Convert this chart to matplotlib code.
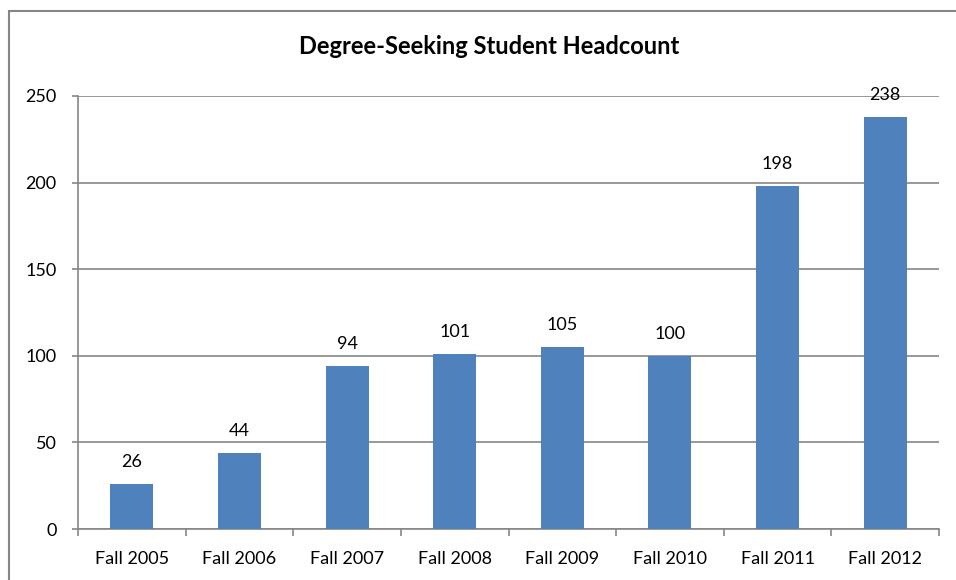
import numpy as np
import matplotlib.pyplot as plt
from matplotlib.patches import Rectangle

plt.rcParams['font.family'] = ['Lato', 'DejaVu Sans']

terms = ['Fall 2005', 'Fall 2006', 'Fall 2007', 'Fall 2008',
         'Fall 2009', 'Fall 2010', 'Fall 2011', 'Fall 2012']
headcount = [26, 44, 94, 101, 105, 100, 198, 238]
y_ticks = [0, 50, 100, 150, 200, 250]

grey = '#868686'
blue = '#4F81BD'

fig = plt.figure(figsize=(9.56, 5.8), dpi=100)
ax = fig.add_axes([78 / 956, 51 / 580, 861 / 956, 433 / 580])

x = np.arange(len(terms))
ax.bar(x, headcount, width=0.4, color=blue, zorder=3)
for xi, v in zip(x, headcount):
    ax.text(xi, v + 8, str(v), ha='center', va='bottom', fontsize=13, zorder=4)

ax.set_xlim(-0.5, len(terms) - 0.5)
ax.set_ylim(0, 250)
ax.set_yticks(y_ticks)
ax.yaxis.grid(True, color=grey, linewidth=1.2, zorder=0)
ax.set_axisbelow(True)

# category labels centred under bars, tick marks at category boundaries
ax.set_xticks(x)
ax.set_xticklabels(terms, fontsize=13)
ax.set_xticks(np.arange(-0.5, len(terms)), minor=True)
ax.tick_params(axis='x', which='major', length=0, pad=16)
ax.tick_params(axis='x', which='minor', length=5, width=1.2, color=grey)
ax.tick_params(axis='y', length=4.5, width=1.2, color=grey, labelsize=13, pad=11)

for side in ['top', 'right']:
    ax.spines[side].set_visible(False)
for side in ['left', 'bottom']:
    ax.spines[side].set_color(grey)
    ax.spines[side].set_linewidth(1.2)

fig.text(489 / 956, 1 - 47 / 580, 'Degree-Seeking Student Headcount',
         ha='center', va='center', fontsize=17, fontweight='bold')

# chart frame (right and bottom edges fall outside the image)
fig.patches.append(Rectangle((9 / 956, -0.05), 1.0, 1 - 11 / 580 + 0.05,
                             transform=fig.transFigure, fill=False,
                             edgecolor=grey, linewidth=1.5))

fig.savefig('out.png', dpi=100)
